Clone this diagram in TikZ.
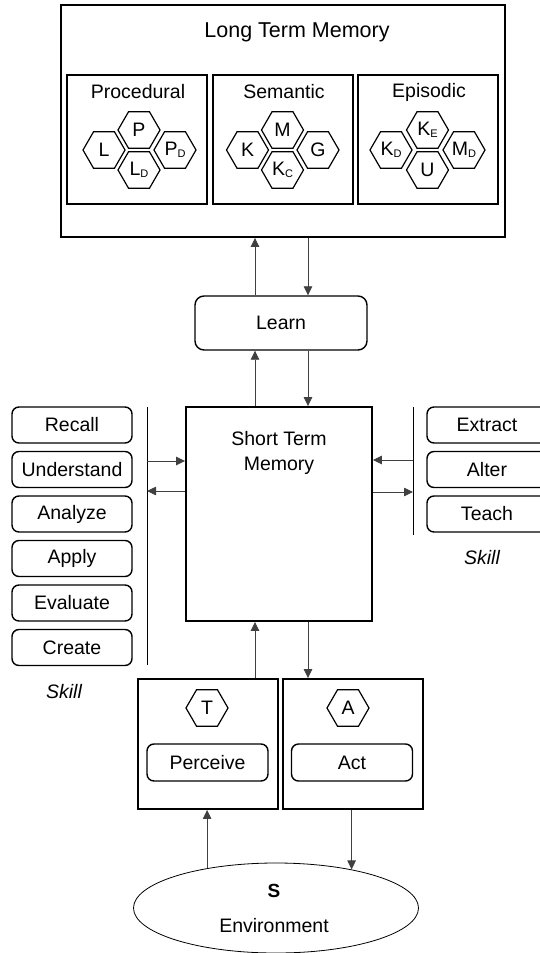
\documentclass[tikz,border=0pt]{standalone}
\usepackage{fontspec}
\setmainfont{Liberation Sans}
\usetikzlibrary{shapes.geometric,arrows.meta}

\newcommand\hexsub[1]{\raisebox{-2pt}{\fontsize{11}{11}\selectfont #1}}

\begin{document}
\begin{tikzpicture}[x=1pt,y=1pt,yscale=-1,
	membox/.style={draw,line width=1.9pt,inner sep=0pt},
	skillbox/.style={draw,line width=1.4pt,rounded corners=7pt,minimum width=120pt,minimum height=36pt,inner sep=0pt,font=\fontsize{19.5}{23}\selectfont},
	hexa/.style={draw,line width=1.2pt,regular polygon,regular polygon sides=6,minimum size=42pt,inner sep=0pt,font=\fontsize{19.5}{23}\selectfont},
	lbl/.style={inner sep=0pt,font=\fontsize{19.5}{25}\selectfont},
	arr/.style={draw=black!75,line width=0.8pt,-{Triangle[length=9pt,width=8.5pt]}}]
	\useasboundingbox (0,0) rectangle (539,953);

	% Long Term Memory
	\node[membox,minimum width=444pt,minimum height=232pt] (ltm) at (283,121) {};
	\node[lbl,font=\fontsize{21.5}{25}\selectfont] (ltmtitle) at (297,32) {Long Term Memory};
	\foreach \cx/\name/\title in {137/proc/Procedural,283/sem/Semantic,428/epi/Episodic}{
		\node[membox,minimum width=140pt,minimum height=129pt] (\name) at (\cx,139.5) {};
		\node[lbl] (\name title) at (\cx+1,92) {\title};
	}
	% Procedural
	\node[hexa] (p) at (139,130) {P};
	\node[hexa] (l) at (104,150) {L};
	\node[hexa] (pd) at (175,150) {P\hexsub{D}};
	\node[hexa] (ld) at (139,170) {L\hexsub{D}};
	% Semantic
	\node[hexa] (m) at (282.5,130) {M};
	\node[hexa] (k) at (247.5,150) {K};
	\node[hexa] (g) at (318,150) {G};
	\node[hexa] (kc) at (282.5,170) {K\hexsub{C}};
	% Episodic
	\node[hexa] (ke) at (427.5,130) {K\hexsub{E}};
	\node[hexa] (kd) at (391,150) {K\hexsub{D}};
	\node[hexa] (md) at (464,150) {M\hexsub{D}};
	\node[hexa] (u) at (427.5,170) {U};

	% Learn
	\node[skillbox,minimum width=172pt,minimum height=54pt,rounded corners=9pt] (learn) at (281,323) {Learn};

	% Short Term Memory
	\node[membox,minimum width=186pt,minimum height=214pt] (stm) at (279,514) {};
	\node[lbl,align=center] (stmtitle) at (279,453) {Short Term\\Memory};

	% Skills
	\foreach \name [count=\i from 0] in {Recall,Understand,Analyze,Apply,Evaluate,Create}
		\node[skillbox] (left\i) at (72,425+44.5*\i) {\name};
	\foreach \name [count=\i from 0] in {Extract,Alter,Teach}
		\node[skillbox] (right\i) at (487,425+44.5*\i) {\name};
	\node[lbl,font=\itshape\fontsize{19.5}{25}\selectfont] (leftskill) at (64,692) {Skill};
	\node[lbl,font=\itshape\fontsize{19.5}{25}\selectfont] (rightskill) at (482,558) {Skill};

	% Skill bars
	\coordinate (lbartop) at (147,407);
	\coordinate (lbarbot) at (147,665);
	\coordinate (rbartop) at (413,407);
	\coordinate (rbarbot) at (413,535);
	\draw[line width=1pt] (lbartop) -- (lbarbot);
	\draw[line width=1pt] (rbartop) -- (rbarbot);

	% Perceive and Act
	\node[membox,minimum width=140pt,minimum height=130pt] (tbox) at (208,744) {};
	\node[membox,minimum width=140pt,minimum height=130pt] (abox) at (353,744) {};
	\node[hexa] (t) at (207,708) {T};
	\node[hexa] (a) at (348,708) {A};
	\node[skillbox,minimum width=121pt,minimum height=37pt] (perceive) at (207.5,762.5) {Perceive};
	\node[skillbox,minimum width=121pt,minimum height=37pt] (act) at (352,762.5) {Act};

	% Environment
	\node[draw,ellipse,line width=0.8pt,minimum width=285pt,minimum height=90pt,inner sep=0pt] (env) at (276,908) {};
	\node[lbl,font=\fontsize{19}{23}\selectfont\bfseries] (s) at (274,891) {S};
	\node[lbl] (envtitle) at (274,926) {Environment};

	% Connection
	\coordinate (upx) at (255,0);
	\coordinate (downx) at (308,0);
	\draw[arr] (learn.north -| upx) -- (ltm.south -| upx);
	\draw[arr] (ltm.south -| downx) -- (learn.north -| downx);
	\draw[arr] (stm.north -| upx) -- (learn.south -| upx);
	\draw[arr] (learn.south -| downx) -- (stm.north -| downx);
	\draw[arr] (tbox.north -| upx) -- (stm.south -| upx);
	\draw[arr] (stm.south -| downx) -- (abox.north -| downx);
	\draw[arr] (env.150) -- (env.150 |- tbox.south);
	\draw[arr] (abox.south -| env.27) -- (env.27);
	% Connection
	\coordinate (lin) at (147,461);
	\coordinate (lout) at (147,491);
	\coordinate (rin) at (413,460);
	\coordinate (rout) at (413,492);
	\draw[arr] (lin) -- (lin -| stm.west);
	\draw[arr] (lout -| stm.west) -- (lout);
	\draw[arr] (rin) -- (rin -| stm.east);
	\draw[arr] (rout -| stm.east) -- (rout);

\end{tikzpicture}
\end{document}
